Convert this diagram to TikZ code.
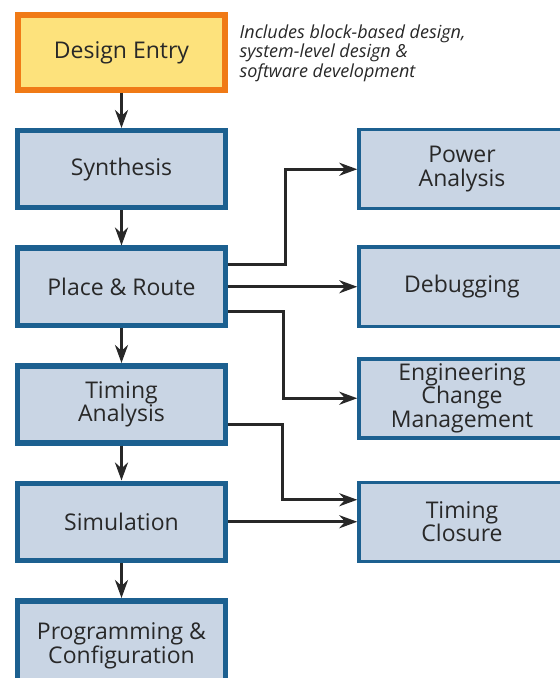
\documentclass[tikz,border=0pt]{standalone}
\usepackage{fontspec}
\setmainfont{Open Sans}
\usetikzlibrary{positioning, arrows.meta, calc}
\definecolor{boxblue}{RGB}{28,96,144}
\definecolor{boxfill}{RGB}{201,213,228}
\definecolor{entryorange}{RGB}{240,122,22}
\definecolor{entryfill}{RGB}{253,226,124}
\definecolor{ink}{RGB}{40,40,40}
\tikzset{
  >={Stealth[length=9pt, width=6.5pt]},
  flow/.style={draw=boxblue, line width=2.75pt, fill=boxfill, inner ysep=1pt, minimum width=104pt, minimum height=38.5pt, align=center, text=ink, font=\fontsize{11.5}{11.75}\selectfont},
  entrybox/.style={flow, draw=entryorange, fill=entryfill, line width=3pt, minimum width=103.5pt, minimum height=37.5pt},
  side/.style={flow, line width=1.75pt, minimum width=103pt, minimum height=39.5pt},
  note/.style={align=left, inner sep=0pt, text=ink, font=\fontsize{9}{9.75}\selectfont\itshape},
}

\begin{document}
\begin{tikzpicture}[node distance=17.5pt, line width=1.5pt, draw=ink]
  \useasboundingbox (0,0) rectangle (280pt,-339pt);

  % main design flow
  \node[entrybox] (entry) at (60.75pt,-26.25pt) {Design Entry};
  \node[note, anchor=north west] (note) at ($(entry.north east)+(5pt,-5.5pt)$) {Includes block-based design,\\ system-level design \&\\ software development};
  \node[flow, below=of entry] (synth) {Synthesis};
  \node[flow, below=of synth] (par) {Place \& Route};
  \node[flow, below=of par] (sta) {Timing\\ Analysis};
  \node[flow, below=of sta] (sim) {Simulation};
  \node[flow, below=of sim, minimum height=45pt] (prog) {Programming \&\\ Configuration};

  % side tasks
  \node[side, right=64.5pt of synth] (power) {Power\\ Analysis};
  \node[side, right=64.5pt of par] (debug) {Debugging};
  \node[side, right=64.5pt of sta, yshift=3pt] (eco) {Engineering\\ Change\\ Management};
  \node[side, right=64.5pt of sim] (closure) {Timing\\ Closure};

  \foreach \a/\b in {entry/synth, synth/par, par/sta, sta/sim, sim/prog}
    \draw[->] (\a) -- (\b);

  \draw[->] ($(par.east)+(0,11pt)$) -- ++(28.5pt,0) |- (power);
  \draw[->] (par) -- (debug);
  \draw[->] ($(par.east)+(0,-12.5pt)$) -- ++(27.5pt,0) |- (eco);
  \draw[->] ($(sta.east)+(0,-10pt)$) -- ++(27pt,0) |- ($(closure.west)+(0,11pt)$);
  \draw[->] (sim) -- (closure);
\end{tikzpicture}
\end{document}
